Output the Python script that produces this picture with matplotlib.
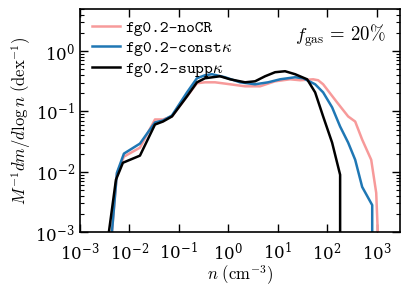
import matplotlib
matplotlib.use("Agg")
import matplotlib.pyplot as plt
from matplotlib.ticker import LogLocator, NullLocator

plt.rcParams['mathtext.fontset'] = 'cm'
plt.rcParams['font.family'] = 'serif'
plt.rcParams['font.serif'] = ['DejaVu Serif']

# density bins (cm^-3) and mass fractions per dex
n_nocr = [0.00445, 0.00561, 0.00778, 0.0164, 0.033, 0.0479, 0.0728, 0.1466, 0.233, 0.339,
          0.541, 1.09, 2.19, 4.4, 8.86, 17.8, 28.4, 52.1, 65.8, 83, 159, 266, 369, 511,
          778, 982, 1183]
y_nocr = [1e-3, 0.0093, 0.0178, 0.0251, 0.0736, 0.0736, 0.0826, 0.178, 0.293, 0.304,
          0.304, 0.282, 0.261, 0.261, 0.316, 0.341, 0.329, 0.341, 0.329, 0.282, 0.141,
          0.0826, 0.068, 0.0341, 0.0158, 0.00447, 1e-4]

n_const = [0.00445, 0.00561, 0.00778, 0.0164, 0.033, 0.0479, 0.0728, 0.1466, 0.233, 0.339,
           0.47, 0.861, 1.73, 3.49, 6.39, 11.2, 22.5, 32.7, 57.2, 83, 126, 183, 266, 369,
           511, 815, 815]
y_const = [1e-3, 0.0096, 0.02, 0.0293, 0.0656, 0.0708, 0.0857, 0.207, 0.355, 0.398,
           0.414, 0.369, 0.304, 0.282, 0.304, 0.341, 0.369, 0.355, 0.282, 0.207, 0.117,
           0.0562, 0.0304, 0.0158, 0.0056, 0.0028, 1e-4]

n_supp = [0.00386, 0.00536, 0.00741, 0.0164, 0.033, 0.0479, 0.0728, 0.1466, 0.233, 0.339,
          0.682, 1.09, 2.19, 3.49, 5.56, 8.86, 14.1, 22.5, 39.4, 57.2, 83, 126, 183, 183]
y_supp = [1e-3, 0.00736, 0.0141, 0.0185, 0.0607, 0.068, 0.0826, 0.178, 0.304, 0.355,
          0.383, 0.341, 0.304, 0.316, 0.383, 0.447, 0.464, 0.414, 0.341, 0.207, 0.0826,
          0.0304, 0.0089, 1e-4]

fig = plt.figure(figsize=(4.16, 2.89), dpi=100)
ax = fig.add_axes([0.192, 0.197, 0.770, 0.772])

ax.plot(n_nocr, y_nocr, color='#f79a9a', lw=1.8, label=r'fg0.2-noCR')
ax.plot(n_const, y_const, color='#1f77b4', lw=1.8, label=r'fg0.2-const$\kappa$')
ax.plot(n_supp, y_supp, color='black', lw=1.8, label=r'fg0.2-supp$\kappa$')

ax.set_xscale('log')
ax.set_yscale('log')
ax.set_xlim(1e-3, 3e3)
ax.set_ylim(1e-3, 5)
ax.xaxis.set_major_locator(LogLocator(base=10, numticks=10))
ax.xaxis.set_minor_locator(NullLocator())
ax.yaxis.set_minor_locator(LogLocator(base=10, subs=range(2, 10), numticks=10))

ax.tick_params(which='both', direction='in', top=True, right=True, labelsize=12)
ax.tick_params(which='major', length=6, width=1)
ax.tick_params(which='minor', length=3, width=0.8)
ax.tick_params(axis='x', pad=7)
for s in ax.spines.values():
    s.set_linewidth(1.2)

ax.set_xlabel(r'$n\ (\mathrm{cm}^{-3})$', fontsize=12, labelpad=0)
ax.set_ylabel(r'$M^{-1}dm/d\log n\ (\mathrm{dex}^{-1})$', fontsize=12, labelpad=2)

leg = ax.legend(loc='upper left', frameon=False, prop={'family': 'cmtt10', 'size': 12},
                handlelength=1.7, handletextpad=0.3, labelspacing=0.2,
                bbox_to_anchor=(0.0375, 0.948), borderaxespad=0, borderpad=0)

ax.text(0.955, 0.88, r'$f_\mathrm{gas}\,=\,20\%$', transform=ax.transAxes,
        ha='right', va='center', fontsize=13.5)

fig.savefig('out.png', dpi=100)
